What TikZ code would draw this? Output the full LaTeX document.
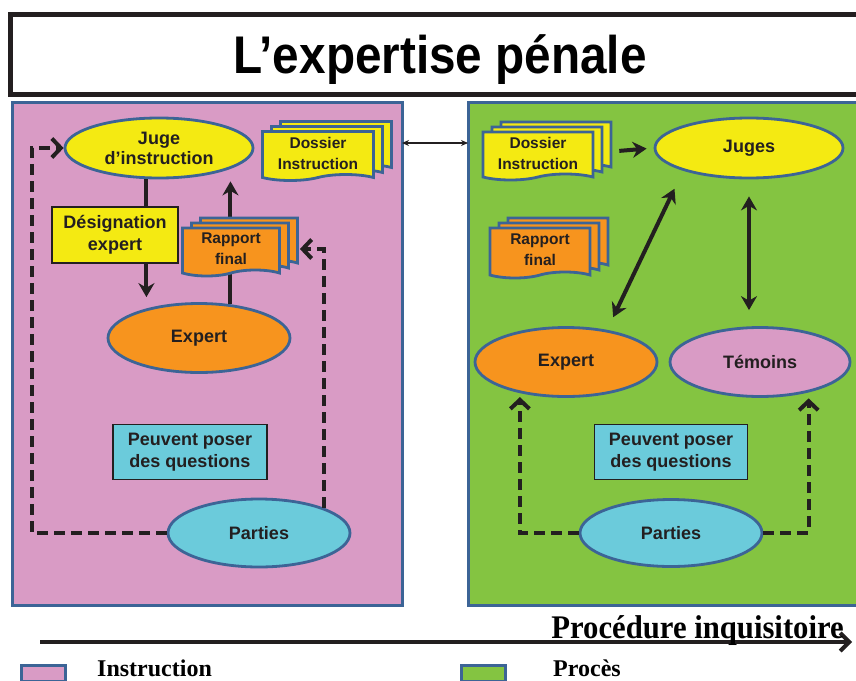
\documentclass[tikz,border=0pt]{standalone}
\usepackage{fontspec}
\usepackage{graphicx}
\setmainfont{Liberation Sans}
\newfontfamily\romanfont{Liberation Serif}
\usetikzlibrary{shapes.geometric,shapes.symbols,shadows,arrows.meta}

\definecolor{instrpink}{HTML}{D99BC5}
\definecolor{procgreen}{HTML}{84C441}
\definecolor{judgeyellow}{HTML}{F4EA12}
\definecolor{expertorange}{HTML}{F7941E}
\definecolor{partycyan}{HTML}{6BCBDB}
\definecolor{edgeblue}{HTML}{3C6496}
\definecolor{inkblack}{HTML}{231F20}

\tikzset{
  panel/.style={rectangle, draw=edgeblue, line width=3pt, inner sep=0pt, outer sep=0pt},
  actor/.style={ellipse, draw=edgeblue, line width=2.8pt, inner sep=0pt, text=inkblack,
    font=\bfseries\fontsize{18}{20}\selectfont, align=center},
  tag/.style={rectangle, draw=inkblack, line width=1.2pt, inner sep=0pt, text=inkblack,
    font=\bfseries\fontsize{18}{22}\selectfont, align=center},
  pile/.style={tape, tape bend top=none, tape bend height=6pt, draw=edgeblue, line width=2.8pt,
    inner sep=0pt, text=inkblack, font=\bfseries\fontsize{15.5}{21}\selectfont, align=center,
    copy shadow={shadow xshift=18pt, shadow yshift=10pt},
    copy shadow={shadow xshift=9pt, shadow yshift=5pt}},
  swatch/.style={rectangle, draw=edgeblue, line width=3pt, minimum width=44pt, minimum height=16pt},
  keytext/.style={anchor=base west, inner sep=0pt, font=\romanfont\bfseries\fontsize{24}{24}\selectfont},
  plainlink/.style={draw=inkblack, line width=4pt},
  passes/.style={plainlink, -{Stealth[length=14pt,width=16pt]}},
  talks/.style={plainlink, {Stealth[length=14pt,width=16pt]}-{Stealth[length=14pt,width=16pt]}},
  asks/.style={plainlink, dash pattern=on 11pt off 6pt, -{Straight Barb[length=9pt,width=19pt]}},
}

\begin{document}
\begin{tikzpicture}[x=1pt,y=-1pt]
  \useasboundingbox (0,0) rectangle (856,680);
  \fill[white] (0,0) rectangle (856,680);

  \node[rectangle, draw=inkblack, line width=5pt, minimum width=860pt, minimum height=80pt, text depth=0pt,
    font=\bfseries\fontsize{53}{53}\selectfont] (title) at (440,54) {\scalebox{0.9}[1]{L’expertise pénale}};

  \node[panel, fill=instrpink, minimum width=390pt, minimum height=503pt] (instr) at (207,353.5) {};
  \node[panel, fill=procgreen, minimum width=392pt, minimum height=503pt] (proc) at (664,353.5) {};

  % instruction
  \node[actor, fill=judgeyellow, minimum width=188pt, minimum height=60pt] (juge) at (159,148) {Juge\\d’instruction};
  \node[pile, fill=judgeyellow, minimum width=111pt, minimum height=49pt] (dosL) at (318,153) {Dossier\\Instruction};
  \node[tag, fill=judgeyellow, minimum width=126pt, minimum height=56pt] (desig) at (115,235) {Désignation\\expert};
  \node[actor, fill=expertorange, minimum width=182pt, minimum height=69pt] (expertL) at (199,338) {Expert};
  \draw[passes, shorten >=2pt] (expertL.47) -- (expertL.47 |- juge.south);
  \node[pile, fill=expertorange, minimum width=97pt, minimum height=48pt] (rapL) at (231,249) {Rapport\\final};
  \node[tag, fill=partycyan, minimum width=154pt, minimum height=55pt] (askL) at (190,452) {Peuvent poser\\des questions};
  \node[actor, fill=partycyan, minimum width=182pt, minimum height=68pt] (partiesL) at (259,533) {Parties};

  \draw[plainlink] (juge.248) -- (juge.248 |- desig.north);
  \draw[passes, shorten >=5pt] (juge.248 |- desig.south) -- (juge.248 |- expertL.north);
  \coordinate (lcorner) at (32,148);
  \draw[asks] (partiesL.west) -| (lcorner) -- (juge.west);
  \draw[asks, shorten >=19pt] (partiesL.21) |- (rapL.east);

  % proces
  \node[pile, fill=judgeyellow, minimum width=110pt, minimum height=48pt] (dosR) at (538,153) {Dossier\\Instruction};
  \node[actor, fill=judgeyellow, minimum width=188pt, minimum height=60pt] (juges) at (749,148) {Juges};
  \node[pile, fill=expertorange, minimum width=100pt, minimum height=50pt] (rapR) at (540,250) {Rapport\\final};
  \node[actor, fill=expertorange, minimum width=182pt, minimum height=69pt] (expertR) at (566,362) {Expert};
  \node[actor, fill=instrpink, minimum width=180pt, minimum height=69pt] (temoins) at (760,362) {Témoins};
  \node[tag, fill=partycyan, minimum width=153pt, minimum height=55pt] (askR) at (671,452) {Peuvent poser\\des questions};
  \node[actor, fill=partycyan, minimum width=182pt, minimum height=67pt] (partiesR) at (671,533) {Parties};

  \draw[passes, shorten <=25pt, shorten >=7pt] (dosR.east) -- (juges.west);
  \draw[talks, shorten <=14pt, shorten >=20pt] (expertR.38) -- (juges.199);
  \draw[talks, shorten <=17pt, shorten >=16pt] (juges.south) -- (juges.south |- temoins.north);
  \draw[asks, shorten >=4pt] (partiesR.west) -| (expertR.214);
  \draw[asks, shorten >=6pt] (partiesR.east) -| (temoins.328);

  \coordinate (bridge) at (0,143);
  \draw[inkblack, line width=1.4pt, {Stealth[length=7pt,width=6pt]}-{Stealth[length=7pt,width=6pt]}]
    (instr.east |- bridge) -- (proc.west |- bridge);

  % time line and key
  \coordinate (tstart) at (40,642);
  \coordinate (tend) at (852,642);
  \draw[plainlink, -{Straight Barb[length=9pt,width=18pt]}] (tstart) -- (tend);
  \node[anchor=base east, inner sep=0pt, font=\romanfont\bfseries\fontsize{33}{33}\selectfont] (procedure) at (844,638)
    {\scalebox{0.93}[1]{Procédure inquisitoire}};
  \node[swatch, fill=instrpink] (keyinstr) at (43,673) {};
  \node[keytext] (instrtext) at (97,676) {Instruction};
  \node[swatch, fill=procgreen] (keyproc) at (483,673) {};
  \node[keytext] (proctext) at (553,676) {Procès};
\end{tikzpicture}
\end{document}
